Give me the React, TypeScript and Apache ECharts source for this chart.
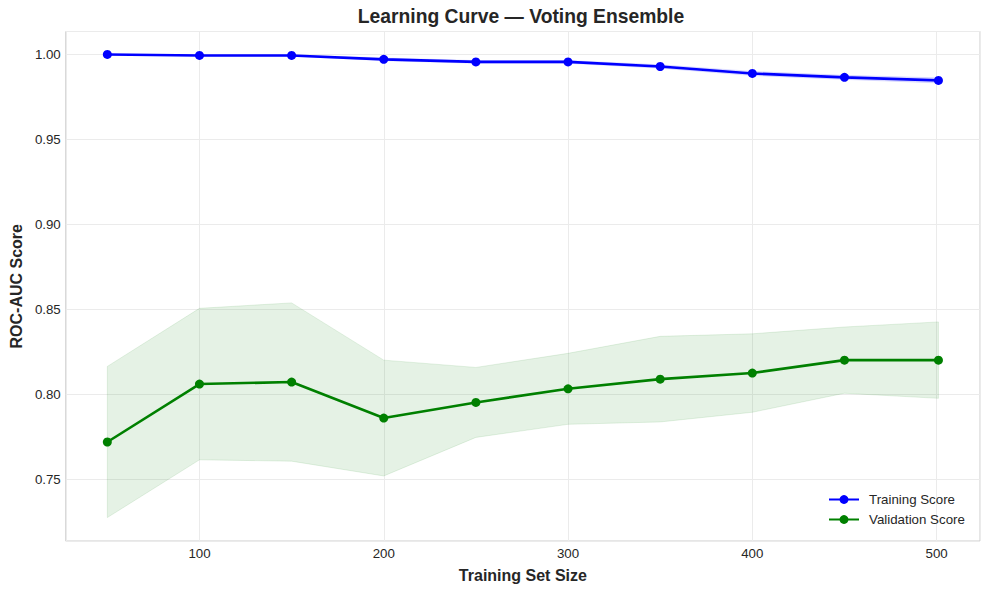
import React, { useEffect, useRef } from "react";
import * as echarts from "echarts";

const trainSizes = [50, 100, 150, 200, 250, 300, 350, 400, 450, 501];
const trainMean = [1.0, 0.9994, 0.9994, 0.9971, 0.9956, 0.9956, 0.9929, 0.9888, 0.9865, 0.9847];
const trainStd = [0.0, 0.0003, 0.0003, 0.0008, 0.0008, 0.0008, 0.001, 0.0012, 0.0012, 0.0015];
const valMean = [0.7718, 0.8059, 0.8071, 0.7859, 0.7951, 0.8031, 0.8088, 0.8124, 0.82, 0.82];
const valStd = [0.0445, 0.0446, 0.0466, 0.0341, 0.0206, 0.0209, 0.0252, 0.0231, 0.0195, 0.0225];

const seriesNames = ["Training Score", "Validation Score"];
const seriesColors = ["#0000ff", "#008000"];

const FONT = "'Liberation Sans', Arial, Helvetica, sans-serif";
const TEXT = "#262626";

function bandSeries(mean: number[], std: number[], color: string) {
  return {
    type: "custom",
    silent: true,
    z: 1,
    data: [[trainSizes[0], mean[0]]],
    renderItem: (_params: any, api: any) => {
      const upper = trainSizes.map((x, i) => api.coord([x, mean[i] + std[i]]));
      const lower = trainSizes.map((x, i) => api.coord([x, mean[i] - std[i]])).reverse();
      return {
        type: "polygon",
        shape: { points: upper.concat(lower) },
        style: {
          fill: color,
          opacity: 0.1,
          stroke: color,
          lineWidth: 1,
        },
      };
    },
  };
}

function lineSeries(name: string, mean: number[], color: string) {
  return {
    name,
    type: "line",
    z: 3,
    data: trainSizes.map((x, i) => [x, mean[i]]),
    symbol: "circle",
    symbolSize: 9,
    showSymbol: true,
    lineStyle: { color, width: 2.6 },
    itemStyle: { color },
  };
}

export default function App() {
  const ref = useRef<HTMLDivElement>(null);

  useEffect(() => {
    document.body.style.margin = "0";
    if (!ref.current) return;
    const chart = echarts.init(ref.current, null, { renderer: "svg" });
    chart.setOption({
      animation: false,
      backgroundColor: "#ffffff",
      textStyle: { fontFamily: FONT },
      title: {
        text: "Learning Curve — Voting Ensemble",
        left: 521,
        textAlign: "center",
        top: 7,
        padding: 0,
        textStyle: { fontFamily: FONT, fontSize: 19.3, fontWeight: "bold", color: TEXT },
      },
      legend: {
        data: seriesNames,
        orient: "vertical",
        left: 828,
        top: 493,
        padding: 0,
        itemWidth: 30,
        itemHeight: 11,
        itemGap: 7,
        textStyle: { fontFamily: FONT, fontSize: 13.3, color: TEXT, padding: [0, 0, 0, 5] },
      },
      grid: {
        left: 62.5,
        right: 9,
        top: 31.5,
        bottom: 49,
        show: true,
        borderColor: "#cccccc",
        borderWidth: 1,
        containLabel: false,
      },
      xAxis: {
        type: "value",
        min: 27.45,
        max: 523.55,
        minInterval: 100,
        maxInterval: 100,
        name: "Training Set Size",
        nameLocation: "middle",
        nameGap: 26,
        nameTextStyle: { fontFamily: FONT, fontSize: 16, fontWeight: "bold", color: TEXT },
        axisLine: { show: false },
        axisTick: { show: false },
        axisLabel: {
          margin: 6,
          fontFamily: FONT,
          fontSize: 13.3,
          color: TEXT,
          showMinLabel: false,
          showMaxLabel: false,
          formatter: (v: number) => String(Math.round(v)),
        },
        splitLine: { show: true, lineStyle: { color: "#ebebeb", width: 1 } },
      },
      yAxis: {
        type: "value",
        min: 0.7135,
        max: 1.0135,
        minInterval: 0.05,
        maxInterval: 0.05,
        name: "ROC-AUC Score",
        nameLocation: "middle",
        nameGap: 38,
        nameTextStyle: { fontFamily: FONT, fontSize: 16, fontWeight: "bold", color: TEXT },
        axisLine: { show: false },
        axisTick: { show: false },
        axisLabel: {
          margin: 5,
          fontFamily: FONT,
          fontSize: 13.3,
          color: TEXT,
          showMinLabel: false,
          showMaxLabel: false,
          formatter: (v: number) => v.toFixed(2),
        },
        splitLine: { show: true, lineStyle: { color: "#ebebeb", width: 1 } },
      },
      series: [
        bandSeries(trainMean, trainStd, seriesColors[0]),
        bandSeries(valMean, valStd, seriesColors[1]),
        lineSeries(seriesNames[0], trainMean, seriesColors[0]),
        lineSeries(seriesNames[1], valMean, seriesColors[1]),
      ],
    });
    return () => chart.dispose();
  }, []);

  return <div ref={ref} style={{ width: 989, height: 590 }} />;
}
